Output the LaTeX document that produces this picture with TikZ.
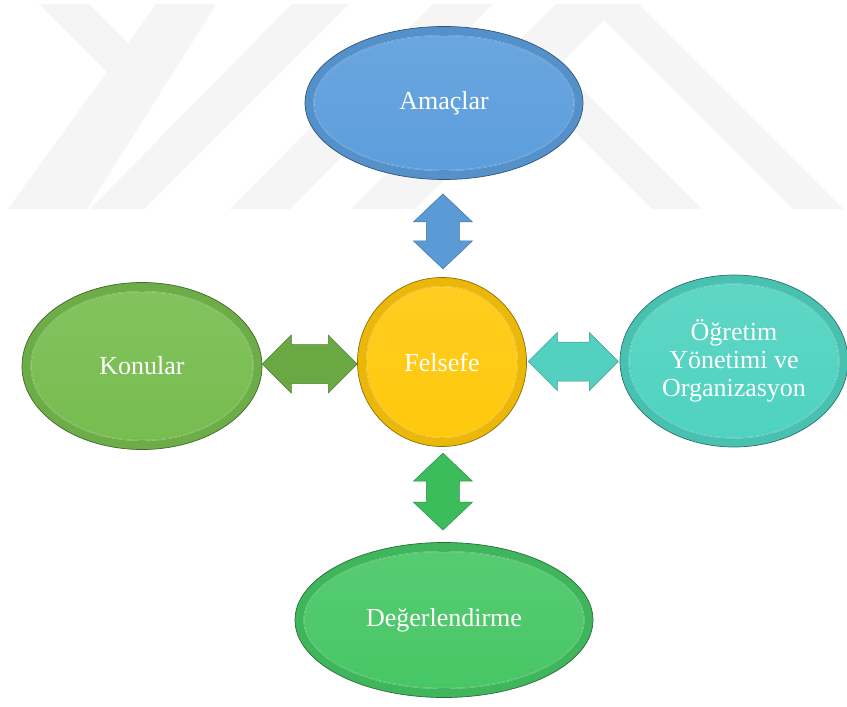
\documentclass[tikz,border=0pt]{standalone}
\usepackage{fontspec}
\setmainfont{Liberation Serif}
\usetikzlibrary{shapes.geometric,calc}
\definecolor{wm}{RGB}{245,245,245}
\definecolor{cblue}{RGB}{91,157,220}
\definecolor{cgold}{RGB}{255,200,10}
\definecolor{clime}{RGB}{118,188,78}
\definecolor{cteal}{RGB}{78,210,192}
\definecolor{cgreen}{RGB}{70,198,100}
\definecolor{ablue}{RGB}{91,155,213}
\definecolor{alime}{RGB}{106,168,67}
\definecolor{ateal}{RGB}{83,208,191}
\definecolor{agreen}{RGB}{59,189,92}
\tikzset{
  bub/.style={ellipse, fill=#1!92!black, draw=#1!55!black, line width=0.7pt,
    text=white, font=\fontsize{26}{28}\selectfont, align=center, inner sep=0pt,
    path picture={
      \shade[top color=#1!90!white, bottom color=#1, draw=#1!45!white, line width=1pt]
        let \p1=(path picture bounding box.north east), \p2=(path picture bounding box.center) in
        (\p2) ellipse [x radius={\x1-\x2-9pt}, y radius={\y1-\y2-9pt}];
      \draw[#1!92!black, line width=0.6pt]
        let \p1=(path picture bounding box.north east), \p2=(path picture bounding box.center) in
        (\p2) ellipse [x radius={\x1-\x2-9pt}, y radius={\y1-\y2-9pt}];
    }},
  darr/.style={fill=#1, draw=#1!75!black, line width=0.5pt}
}
\newcommand\myVarr[3]{%
  \draw[darr=#2, shift={(#1)}] (0,-#3) -- (29.5,-#3+28) -- (16.5,-#3+28) -- (16.5,#3-28) -- (29.5,#3-28) -- (0,#3) -- (-29.5,#3-28) -- (-16.5,#3-28) -- (-16.5,-#3+28) -- (-29.5,-#3+28) -- cycle;}
\newcommand\myHarr[3]{%
  \draw[darr=#2, shift={(#1)}] (-#3,0) -- (-#3+29,-29) -- (-#3+29,-19.5) -- (#3-29,-19.5) -- (#3-29,-29) -- (#3,0) -- (#3-29,29) -- (#3-29,19.5) -- (-#3+29,19.5) -- (-#3+29,29) -- cycle;}
\begin{document}
\begin{tikzpicture}[x=1pt,y=-1pt]
\useasboundingbox (0,0) rectangle (847,707);
\fill[white] (0,0) rectangle (847,707);
% watermark
\begin{scope}
\clip (8,4) rectangle (847,209);
\fill[wm] (38,3) -- (88,3) -- (160,75) -- (110,75) -- cycle;
\fill[wm] (157,3) -- (217,3) -- (87,209) -- (8,209) -- cycle;
\fill[wm] (293,3) -- (350,3) -- (144,209) -- (90,209) -- cycle;
\fill[wm] (434,3) -- (494,3) -- (290,209) -- (230,209) -- cycle;
\fill[wm] (557,3) -- (637,3) -- (843,209) -- (793,209) -- (604,20) -- (415,209) -- (351,209) -- cycle;
\fill[wm] (503,60) -- (553,60) -- (702,209) -- (652,209) -- cycle;
\end{scope}
% nodes
\node[bub=cblue, minimum width=278pt, minimum height=153pt] (ama) at (444,103) {Amaçlar};
\node[bub=cgold, minimum width=169pt, minimum height=169pt] (fel) at (442,362) {Felsefe};
\node[bub=clime, minimum width=240pt, minimum height=167pt] (kon) at (142,366) {Konular};
\node[bub=cteal, minimum width=228pt, minimum height=172pt] (ogr) at (734,361) {Öğretim\\Yönetimi ve\\Organizasyon};
\node[bub=cgreen, minimum width=298pt, minimum height=155pt] (deg) at (444,620) {Değerlendirme};
% connectors
\coordinate (m1) at ($(ama.south)!0.53!(fel.north)$);
\coordinate (m2) at ($(fel.south)!0.47!(deg.north)$);
\coordinate (m3) at ($(kon.east)!0.5!(fel.west)$);
\coordinate (m4) at ($(fel.east)!0.5!(ogr.west)$);
\myVarr{m1}{ablue}{37.5}
\myVarr{m2}{agreen}{38.5}
\myHarr{m3}{alime}{47.5}
\myHarr{m4}{ateal}{45}
\end{tikzpicture}
\end{document}
